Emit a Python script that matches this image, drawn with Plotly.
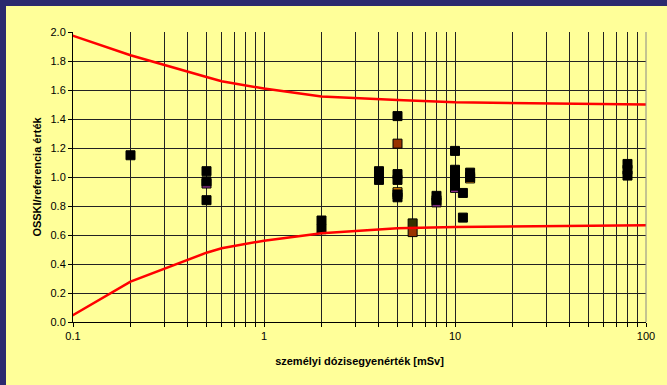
import plotly.graph_objects as go

# Personal dose equivalent [mSv] vs. OSSKI / reference ratio
black_x = [0.2, 0.5, 0.5, 0.5, 2, 2, 4, 4, 5, 5, 5, 5, 5, 8, 8,
           10, 10, 10, 10, 10, 11, 11, 12, 12, 80, 80, 80]
black_y = [1.15, 1.04, 0.97, 0.84, 0.70, 0.64, 1.04, 0.98, 1.42, 1.02, 0.98, 0.88, 0.86, 0.87, 0.84,
           1.18, 1.05, 1.01, 0.97, 0.94, 0.89, 0.72, 1.03, 1.00, 1.09, 1.05, 1.01]

brown_x = [5, 6]
brown_y = [1.23, 0.62]

olive_x = [6]
olive_y = [0.68]

purple_x = [0.5, 8, 10]
purple_y = [0.955, 0.825, 0.925]

orange_x = [5, 12]
orange_y = [0.895, 0.99]

# Trumpet-curve acceptance limits
limit_x = [0.092, 0.2, 0.5, 0.6, 1, 2, 5, 8, 10, 100]
upper_y = [1.99, 1.84, 1.69, 1.66, 1.61, 1.556, 1.531, 1.522, 1.515, 1.50]
lower_y = [0.02, 0.278, 0.478, 0.508, 0.561, 0.612, 0.646, 0.653, 0.655, 0.667]

x_ticks = [m * 10 ** e for e in (-1, 0, 1) for m in range(1, 10)] + [100]
x_tick_text = ["0.1" if v == 0.1 else "1" if v == 1 else "10" if v == 10 else "100" if v == 100 else ""
               for v in x_ticks]
y_ticks = [0.0, 0.2, 0.4, 0.6, 0.8, 1.0, 1.2, 1.4, 1.6, 1.8, 2.0]
y_tick_text = [f"{v:.1f}" for v in y_ticks]

YELLOW = "#FFFF99"
NAVY = "#2B2A6E"
FONT = "Liberation Sans, Arial, sans-serif"

fig = go.Figure()


def squares(xs, ys, color):
    fig.add_trace(go.Scatter(
        x=xs, y=ys, mode="markers", cliponaxis=False,
        marker=dict(symbol="square", size=9, color=color, line=dict(color="#000000", width=1)),
        showlegend=False,
    ))


squares(purple_x, purple_y, "#993399")
squares(orange_x, orange_y, "#FF9900")
squares(olive_x, olive_y, "#333300")
squares(black_x, black_y, "#000000")
squares(brown_x, brown_y, "#993300")

for ys in (upper_y, lower_y):
    fig.add_trace(go.Scatter(
        x=limit_x, y=ys, mode="lines", cliponaxis=False,
        line=dict(color="#FF0000", width=2.5), showlegend=False,
    ))

# Navy frame along the top and left edges
L, R, T, B = 73, 21, 32, 63
W, H = 667 - L - R, 385 - T - B
fig.add_shape(type="rect", xref="paper", yref="paper",
              x0=-L / W - 0.01, x1=(6 - L) / W, y0=-B / H - 0.05, y1=1 + T / H + 0.05,
              fillcolor=NAVY, line=dict(width=0), layer="below")
fig.add_shape(type="rect", xref="paper", yref="paper",
              x0=-L / W - 0.01, x1=1 + R / W + 0.01, y0=1 + (T - 6) / H, y1=1 + T / H + 0.05,
              fillcolor=NAVY, line=dict(width=0), layer="below")

fig.update_layout(
    width=667, height=385,
    margin=dict(l=L, r=R, t=T, b=B),
    paper_bgcolor=YELLOW, plot_bgcolor=YELLOW,
    font=dict(family=FONT, size=11, color="#000000"),
    xaxis=dict(
        type="log", range=[-1, 2],
        tickvals=x_ticks, ticktext=x_tick_text,
        ticks="outside", ticklen=4, tickcolor="#000000", tickwidth=1,
        showgrid=True, gridcolor="#222222", gridwidth=1,
        showline=True, linecolor="#000000", linewidth=1,
        zeroline=False,
        title=dict(text="<b>személyi dózisegyenérték [mSv]</b>", font=dict(size=11), standoff=16),
        tickfont=dict(size=11),
    ),
    yaxis=dict(
        range=[0, 2.0],
        tickvals=y_ticks, ticktext=y_tick_text,
        ticks="outside", ticklen=4, tickcolor="#000000", tickwidth=1,
        showgrid=True, gridcolor="#222222", gridwidth=1,
        showline=True, linecolor="#000000", linewidth=1,
        zeroline=False,
        title=dict(text="<b>OSSKI/referencia érték</b>", font=dict(size=11), standoff=6),
        tickfont=dict(size=11),
    ),
)

# Thin grey frame on the right-hand side of the plot area
fig.add_shape(type="line", xref="paper", yref="paper", x0=1, x1=1, y0=0, y1=1,
              line=dict(color="#888888", width=1))

fig.write_html("out.html")
